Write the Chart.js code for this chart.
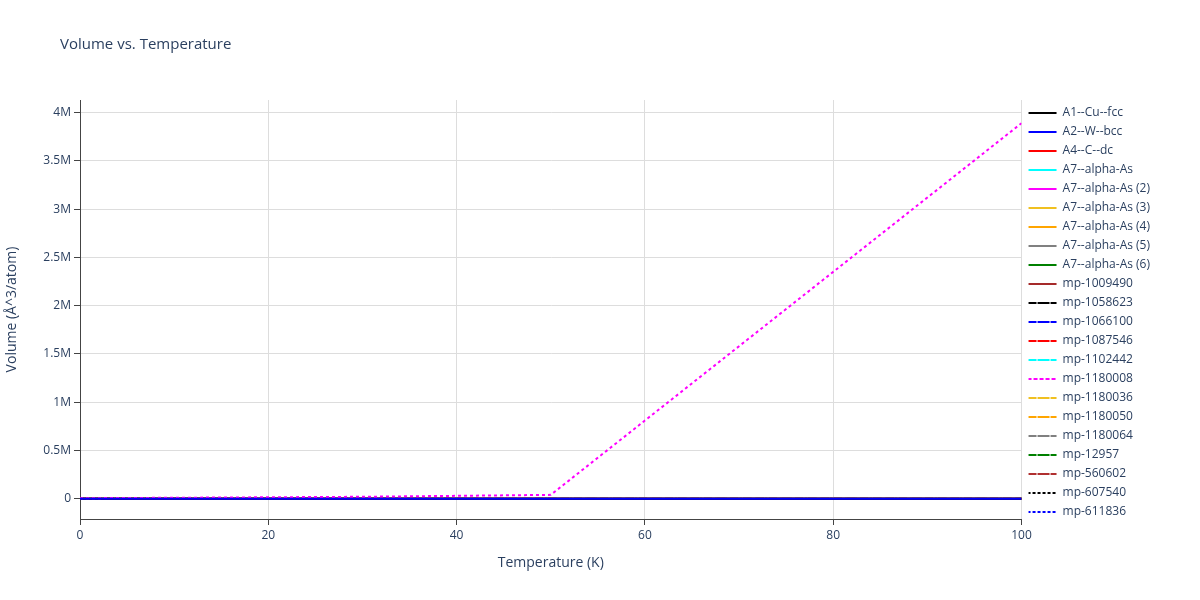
<!DOCTYPE html>
<html><head><meta charset="utf-8">
<script src="https://cdn.jsdelivr.net/npm/chart.js@4"></script>
<style>body{margin:0;background:#fff}#w{width:1200px;height:600px}</style></head>
<body><div id="w"><canvas id="c"></canvas></div>
<script>
const temperatures = [0,10,20,30,40,50,60,70,80,90,100];
const seriesNames = ["A1--Cu--fcc","A2--W--bcc","A4--C--dc","A7--alpha-As","A7--alpha-As (2)","A7--alpha-As (3)","A7--alpha-As (4)","A7--alpha-As (5)","A7--alpha-As (6)","mp-1009490","mp-1058623","mp-1066100","mp-1087546","mp-1102442","mp-1180008","mp-1180036","mp-1180050","mp-1180064","mp-12957","mp-560602","mp-607540","mp-611836"];
const seriesColors = ["#000000","#0000ff","#ff0000","#00ffff","#ff00ff","#f0c020","#ffa500","#808080","#008000","#a52a2a","#000000","#0000ff","#ff0000","#00ffff","#ff00ff","#f0c020","#ffa500","#808080","#008000","#b03030","#000000","#0000ff"];
const seriesStyle = ["solid","solid","solid","solid","solid","solid","solid","solid","solid","solid","dash","dash","dash","dash","dash","dash","dash","dash","dash","dash","dot","dot"];
const flatVolumes = [12,16,6,22,22,22,22,22,22,20,12,16,6,22,22,22,22,22,22,20,30,25];
const mp1180008Volumes = [5000,10000,15000,20000,30000,40000,810000,1580000,2350000,3120000,3890000];
const yTicks = [0,500000,1000000,1500000,2000000,2500000,3000000,3500000,4000000];

const datasets = seriesNames.map((n,i)=>({
  label:n,
  data: (n==="mp-1180008" ? mp1180008Volumes : temperatures.map(()=>flatVolumes[i])).map((v,k)=>({x:temperatures[k],y:v})),
  borderColor:seriesColors[i], backgroundColor:seriesColors[i],
  borderWidth:2, pointRadius:0, fill:false, tension:0,
  borderDash: n==="mp-1180008" ? [3,3] : seriesStyle[i]==="dash"?[8,5]:seriesStyle[i]==="dot"?[2,3]:[],
  order: n==="A2--W--bcc"?0:(n==="mp-1180008"?1:2)
}));
const fmt=v=>v===0?"0":(v/1e6)+"M";
const titlePlugin={id:'t',afterDraw(c){const x=c.ctx;x.save();x.font='15px "Open Sans", sans-serif';x.fillStyle='#2a3f5f';x.textBaseline='middle';x.fillText('Volume vs. Temperature',60,45);x.restore();}};
new Chart(document.getElementById('c'),{
  type:'line', data:{datasets}, plugins:[titlePlugin],
  options:{responsive:true,maintainAspectRatio:false,animation:false,
    layout:{padding:{top:100,left:0,right:40,bottom:25}},
    plugins:{title:{display:false},tooltip:{enabled:false},
      legend:{position:'right',align:'start',
        labels:{sort:(a,b)=>a.datasetIndex-b.datasetIndex,usePointStyle:false,boxWidth:28,boxHeight:0,padding:7,color:'#2a3f5f',font:{size:12,family:'"Open Sans", sans-serif'}}}},
    scales:{
      x:{type:'linear',min:0,max:100,
        ticks:{stepSize:20,color:'#2a3f5f',font:{size:12,family:'"Open Sans", sans-serif'}},
        grid:{color:'#dddddd',drawTicks:true,tickLength:6,tickColor:'#444'},
        border:{color:'#444',display:true},
        title:{display:true,text:'Temperature (K)',color:'#2a3f5f',font:{size:14,family:'"Open Sans", sans-serif'}},
        afterFit(s){s.height=56;}},
      y:{type:'linear',min:-210000,max:4130000,
        afterBuildTicks(s){s.ticks=yTicks.map(v=>({value:v}));},
        ticks:{callback:fmt,color:'#2a3f5f',font:{size:12,family:'"Open Sans", sans-serif'}},
        grid:{color:'#dddddd',tickLength:6,tickColor:'#444'},
        border:{color:'#444'},
        title:{display:true,text:'Volume (Å^3/atom)',color:'#2a3f5f',font:{size:14,family:'"Open Sans", sans-serif'}},
        afterFit(s){s.width=80;}}
    }}
});
</script></body></html>
